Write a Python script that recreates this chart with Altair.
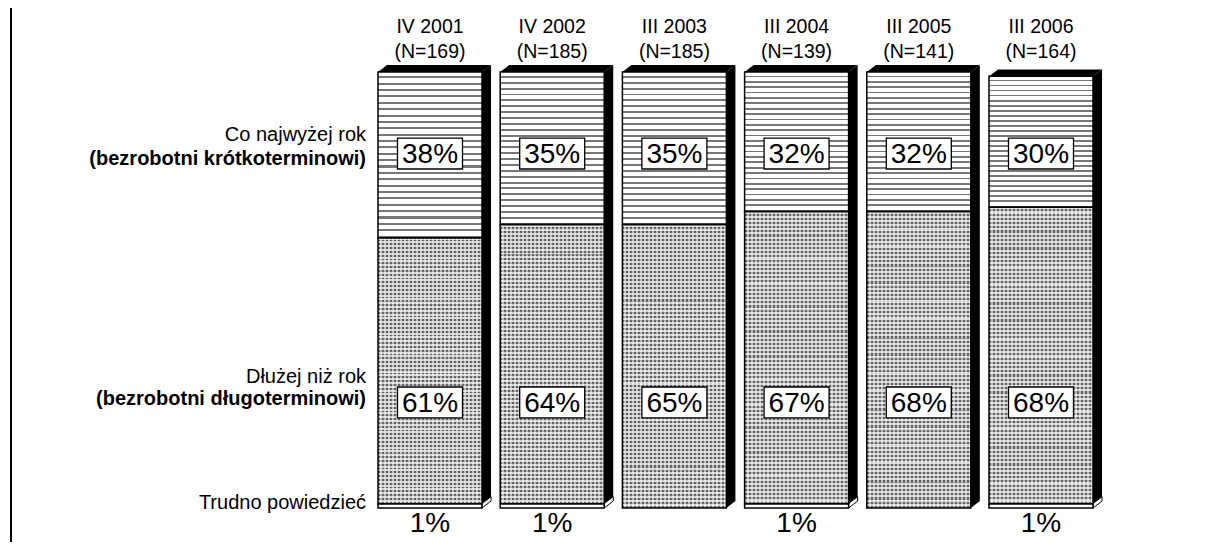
import altair as alt
import pandas as pd

# ---------------- data ----------------
waves = ["IV 2001", "IV 2002", "III 2003", "III 2004", "III 2005", "III 2006"]
sample_n = [169, 185, 185, 139, 141, 164]
short_term = [38, 35, 35, 32, 32, 30]      # Co najwyżej rok
long_term = [61, 64, 65, 67, 68, 68]       # Dłużej niż rok
hard_to_say = [1, 1, 0, 1, 0, 1]           # Trudno powiedzieć

short_label = ["Co najwyżej rok", "(bezrobotni krótkoterminowi)"]
long_label = ["Dłużej niż rok", "(bezrobotni długoterminowi)"]
dk_label = "Trudno powiedzieć"

# ---------------- style ----------------
FONT = "Liberation Sans"
BAR_W = 0.851      # front face width (x units, 1 = bar pitch)
DEPTH_X = 0.074    # 3D depth, x units
DEPTH_Y = 1.6      # 3D depth, y units (percent)
BOX_HW = 0.266     # half width of label boxes
BOX_HH = 3.55      # half height of label boxes

# label rows (y in percent units of the value axis)
HEAD1_Y, HEAD2_Y = 110.3, 104.6
SHORT_BOX_Y, LONG_BOX_Y, DK_TEXT_Y = 81.3, 24.2, -3.6
SHORT_ROW_Y = [85.5, 80.0]
LONG_ROW_Y = [30.0, 24.9]
DK_ROW_Y = 1.1
LEFT_X = -0.098


def stripes(n, c_bg, c_line, frac_line, vertical=False):
    stops = []
    for j in range(n):
        a = j / n
        b = (j + 1 - frac_line) / n
        c = (j + 1) / n
        stops += [alt.GradientStop(color=c_bg, offset=round(a, 5)),
                  alt.GradientStop(color=c_bg, offset=round(b, 5)),
                  alt.GradientStop(color=c_line, offset=round(b, 5)),
                  alt.GradientStop(color=c_line, offset=round(c, 5))]
    if vertical:
        return alt.LinearGradient(gradient="linear", stops=stops, x1=0, x2=1, y1=0, y2=0)
    return alt.LinearGradient(gradient="linear", stops=stops, x1=0, x2=0, y1=0, y2=1)


short_fill = stripes(26, "#ffffff", "#777777", 0.33)
hatch_base = stripes(70, "#d0d0d0", "#666666", 0.5)
hatch_over = stripes(26, "rgba(0,0,0,0)", "rgba(255,255,255,0.55)", 0.5, vertical=True)

# ---------------- tables ----------------
segs, sides, tops, bars = [], [], [], []
for i, (w, n, k, l, t) in enumerate(zip(waves, sample_n, short_term, long_term, hard_to_say)):
    xl, xr = i, i + BAR_W
    total = k + l + t
    if t > 0:
        segs.append(dict(seg="dk", x=xl, x2=xr, y=0, y2=t))
    segs.append(dict(seg="long", x=xl, x2=xr, y=t, y2=t + l))
    segs.append(dict(seg="short", x=xl, x2=xr, y=t + l, y2=total))
    parts = ([(0, t, "white")] if t > 0 else []) + [(t, total, "black")]
    for lo, hi, kind in parts:
        key = f"{i}-{kind}"
        sides.append(dict(key=key, kind=kind, x=xr, y=lo, y2=hi))
        sides.append(dict(key=key, kind=kind, x=xr + DEPTH_X, y=lo + DEPTH_Y, y2=hi + DEPTH_Y))
    tops.append(dict(bar=i, y=total, x=xl, x2=xr))
    tops.append(dict(bar=i, y=total + DEPTH_Y, x=xl + DEPTH_X, x2=xr + DEPTH_X))
    bars.append(dict(xc=xl + BAR_W / 2, bl=xl + BAR_W / 2 - BOX_HW, br=xl + BAR_W / 2 + BOX_HW,
                     head1=w, head2=f"(N={n})",
                     short=f"{k}%", long=f"{l}%", dk=(f"{t}%" if t > 0 else "")))

segs = pd.DataFrame(segs)
sides = pd.DataFrame(sides)
tops = pd.DataFrame(tops)
bars = pd.DataFrame(bars)

xs = alt.Scale(domain=[0, 6], range=[370, 1103.2], nice=False, zero=False)
ys = alt.Scale(domain=[0, 100], range=[500, 64], nice=False, zero=False)


def X(f):
    return alt.X(f, type="quantitative", scale=xs, axis=None)


def Y(f):
    return alt.Y(f, type="quantitative", scale=ys, axis=None)


# side faces
side_black = alt.Chart(sides).transform_filter("datum.kind == 'black'").mark_area(
    orient="vertical", color="black").encode(x=X("x"), y=Y("y"), y2="y2", detail="key:N")
side_white = alt.Chart(sides).transform_filter("datum.kind == 'white'").mark_area(
    orient="vertical", fill="white", stroke="black", strokeWidth=1).encode(
    x=X("x"), y=Y("y"), y2="y2", detail="key:N")
top_face = alt.Chart(tops).mark_area(orient="horizontal", color="black").encode(
    y=Y("y"), x=X("x"), x2="x2", detail="bar:N")

# front faces
front_short = alt.Chart(segs).transform_filter("datum.seg == 'short'").mark_rect(
    fill=short_fill).encode(x=X("x"), x2="x2", y=Y("y"), y2="y2")
front_long = alt.Chart(segs).transform_filter("datum.seg == 'long'").mark_rect(
    fill=hatch_base).encode(x=X("x"), x2="x2", y=Y("y"), y2="y2")
front_long2 = alt.Chart(segs).transform_filter("datum.seg == 'long'").mark_rect(
    fill=hatch_over).encode(x=X("x"), x2="x2", y=Y("y"), y2="y2")
front_dk = alt.Chart(segs).transform_filter("datum.seg == 'dk'").mark_rect(
    fill="white").encode(x=X("x"), x2="x2", y=Y("y"), y2="y2")
outline = alt.Chart(segs).mark_rect(fillOpacity=0, stroke="black", strokeWidth=1.5).encode(
    x=X("x"), x2="x2", y=Y("y"), y2="y2")

# labels in boxes
box_base = alt.Chart(bars).transform_calculate(
    s0=f"{SHORT_BOX_Y - BOX_HH}", s1=f"{SHORT_BOX_Y + BOX_HH}",
    l0=f"{LONG_BOX_Y - BOX_HH}", l1=f"{LONG_BOX_Y + BOX_HH}")
box_short = box_base.mark_rect(fill="white", stroke="black", strokeWidth=1.3).encode(
    x=X("bl"), x2="br", y=Y("s0"), y2="s1")
box_long = box_base.mark_rect(fill="white", stroke="black", strokeWidth=1.3).encode(
    x=X("bl"), x2="br", y=Y("l0"), y2="l1")

txt = dict(font=FONT, fontSize=28, align="center", baseline="middle", color="black")
lab_short = alt.Chart(bars).transform_calculate(yy=f"{SHORT_BOX_Y - 0.35}").mark_text(**txt).encode(
    x=X("xc"), y=Y("yy"), text="short:N")
lab_long = alt.Chart(bars).transform_calculate(yy=f"{LONG_BOX_Y - 0.35}").mark_text(**txt).encode(
    x=X("xc"), y=Y("yy"), text="long:N")
lab_dk = alt.Chart(bars).transform_calculate(yy=f"{DK_TEXT_Y}").mark_text(**txt).encode(
    x=X("xc"), y=Y("yy"), text="dk:N")

htxt = dict(font=FONT, fontSize=19.5, align="center", baseline="middle", color="black")
head1 = alt.Chart(bars).transform_calculate(yy=f"{HEAD1_Y}").mark_text(**htxt).encode(
    x=X("xc"), y=Y("yy"), text="head1:N")
head2 = alt.Chart(bars).transform_calculate(yy=f"{HEAD2_Y}").mark_text(**htxt).encode(
    x=X("xc"), y=Y("yy"), text="head2:N")

left_rows = pd.DataFrame({
    "text": [short_label[0], long_label[0], dk_label, short_label[1], long_label[1]],
    "y": [SHORT_ROW_Y[0], LONG_ROW_Y[0], DK_ROW_Y, SHORT_ROW_Y[1], LONG_ROW_Y[1]],
    "bold": [False, False, False, True, True],
    "x": [LEFT_X] * 5,
})
ltxt = dict(font=FONT, fontSize=20, align="right", baseline="middle", color="black")
left_norm = alt.Chart(left_rows).transform_filter("!datum.bold").mark_text(**ltxt).encode(
    x=X("x"), y=Y("y"), text="text:N")
left_bold = alt.Chart(left_rows).transform_filter("datum.bold").mark_text(
    fontWeight="bold", **ltxt).encode(x=X("x"), y=Y("y"), text="text:N")

frame = alt.Chart(pd.DataFrame({"a": [0]})).mark_rule(color="black", strokeWidth=2).encode(
    x=alt.value(3), y=alt.value(-8), y2=alt.value(542))

chart = alt.layer(
    frame, side_black, side_white, top_face,
    front_short, front_long, front_long2, front_dk, outline,
    box_short, box_long, lab_short, lab_long, lab_dk,
    head1, head2, left_norm, left_bold,
).properties(width=1190, height=534, autosize="none", padding=0
).configure_view(stroke=None)

chart.save("out.html", embed_options={"renderer": "svg", "actions": False})
